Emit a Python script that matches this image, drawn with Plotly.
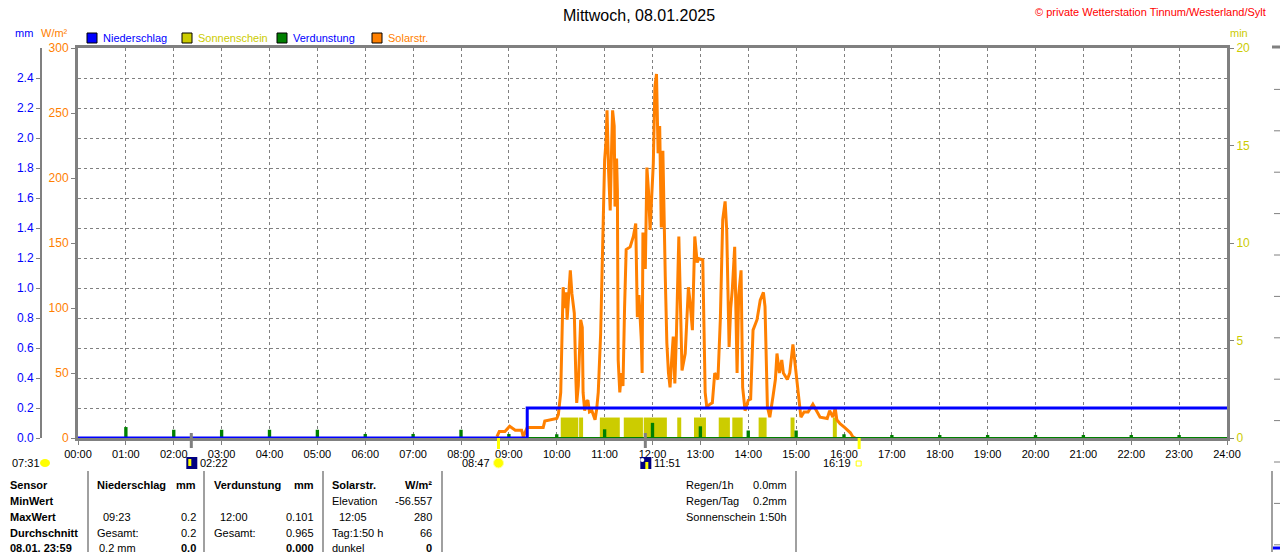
import plotly.graph_objects as go

# Tagesgrafik Wetterstation, 08.01.2025
W, H = 1280, 552

# Solarstrahlung W/m²
solar_time = ["08:45", "08:48", "08:55", "09:01", "09:08", "09:16", "09:18", "09:23", "09:43", "09:45",
              "10:00", "10:02", "10:05", "10:07", "10:08", "10:10", "10:12", "10:13", "10:15", "10:17",
              "10:19", "10:22", "10:24", "10:25", "10:27", "10:28", "10:30", "10:32", "10:33", "10:35",
              "10:37", "10:39", "10:41", "10:44", "10:48", "10:50", "10:52", "10:55", "10:57", "11:00",
              "11:02", "11:03", "11:05", "11:07", "11:09", "11:10", "11:12", "11:13", "11:15", "11:16",
              "11:17", "11:19", "11:21", "11:23", "11:25", "11:27", "11:32", "11:36", "11:39", "11:41",
              "11:43", "11:46", "11:47", "11:48", "11:51", "11:53", "11:55", "11:57", "12:01", "12:02",
              "12:03", "12:05", "12:07", "12:09", "12:11", "12:12", "12:13", "12:16", "12:18", "12:20",
              "12:22", "12:24", "12:26", "12:28", "12:30", "12:33", "12:35", "12:37", "12:41", "12:45",
              "12:47", "12:50", "12:53", "12:56", "12:58", "13:03", "13:06", "13:08", "13:12", "13:15",
              "13:18", "13:22", "13:25", "13:27", "13:28", "13:31", "13:33", "13:36", "13:38", "13:40",
              "13:43", "13:46", "13:48", "13:51", "13:53", "13:56", "14:00", "14:03", "14:06", "14:11",
              "14:15", "14:19", "14:21", "14:24", "14:27", "14:31", "14:34", "14:36", "14:39", "14:42",
              "14:44", "14:49", "14:52", "14:56", "15:00", "15:02", "15:06", "15:10", "15:15", "15:21",
              "15:26", "15:30", "15:39", "15:42", "15:46", "15:49", "15:51", "15:55", "16:01", "16:08",
              "16:11", "16:14"]
solar_wm2 = [1, 5, 5, 9, 6, 6, 1, 8, 8, 13,
             15, 18, 35, 106, 116, 100, 112, 91, 110, 129,
             111, 96, 45, 27, 40, 60, 91, 85, 35, 21,
             28, 29, 20, 21, 14, 22, 35, 80, 137, 214,
             230, 252, 205, 175, 230, 252, 240, 178, 215, 190,
             60, 35, 50, 40, 100, 145, 147, 155, 165, 93,
             110, 75, 50, 158, 130, 208, 190, 160, 211, 250,
             270, 280, 219, 240, 162, 200, 221, 124, 73, 50,
             39, 60, 78, 42, 80, 155, 90, 52, 65, 116,
             105, 83, 155, 135, 138, 137, 35, 24, 26, 27,
             50, 45, 91, 152, 168, 182, 160, 70, 100, 114,
             147, 50, 110, 129, 39, 21, 29, 30, 83, 91,
             106, 112, 101, 24, 16, 32, 45, 65, 50, 60,
             50, 45, 50, 72, 50, 39, 16, 20, 20, 26,
             20, 16, 15, 21, 16, 23, 14, 11, 8, 4,
             1, 0]

# Niederschlag (Tagessumme, mm)
rain_time = ["00:00", "09:23", "24:00"]
rain_mm = [0, 0.2, 0.2]

# Verdunstung je Stunde (mm)
evap_time = ["01:00", "02:00", "03:00", "04:00", "05:00", "06:00", "07:00", "08:00", "09:00", "10:00",
             "11:00", "12:00", "13:00", "14:00", "15:00", "16:00", "17:00", "18:00", "19:00", "20:00",
             "21:00", "22:00", "23:00"]
evap_mm = [0.073, 0.055, 0.055, 0.055, 0.055, 0.027, 0.027, 0.055, 0.027, 0.025,
           0.058, 0.101, 0.078, 0.05, 0.05, 0.025, 0.02, 0.02, 0.02, 0.02,
           0.02, 0.02, 0.02]

# Sonnenschein (min)
sun_start = ["10:05", "10:28", "10:54", "11:24", "11:49", "12:31", "12:52", "13:23", "13:40", "14:13", "14:53", "15:46"]
sun_end = ["10:27", "10:33", "11:19", "11:48", "12:18", "12:36", "13:07", "13:37", "13:53", "14:23", "14:58", "15:51"]
sun_min = [1.05] * len(sun_start)

hour_labels = ["%02d:00" % h for h in range(25)]


def hrs(t):
    h, m = t.split(":")
    return int(h) + int(m) / 60


def px(x):
    return x / W


def py(y):
    return 1 - y / H


FONT = "Liberation Sans, Arial, sans-serif"
GREY = "#808080"
BLUE = "#0000FF"
ORANGE = "#FF8000"
YELLOW = "#CCCC00"
GREEN = "#008000"

fig = go.Figure()

# Sonnenschein-Balken
fig.add_trace(go.Bar(
    x=[(hrs(a) + hrs(b)) / 2 for a, b in zip(sun_start, sun_end)],
    width=[hrs(b) - hrs(a) for a, b in zip(sun_start, sun_end)],
    y=sun_min, yaxis="y", marker=dict(color=YELLOW, line=dict(width=0)),
    showlegend=False, hoverinfo="skip"))

# Solarstrahlung
fig.add_trace(go.Scatter(
    x=[hrs(t) for t in solar_time], y=solar_wm2, yaxis="y2", mode="lines",
    line=dict(color=ORANGE, width=3), showlegend=False, hoverinfo="skip"))

# Verdunstung
fig.add_trace(go.Scatter(
    x=[0, 24], y=[0, 0], yaxis="y3", mode="lines",
    line=dict(color=GREEN, width=2), showlegend=False, hoverinfo="skip"))
fig.add_trace(go.Bar(
    x=[hrs(t) for t in evap_time], y=evap_mm, width=0.07, yaxis="y3",
    marker=dict(color=GREEN, line=dict(width=0)), showlegend=False, hoverinfo="skip"))

# Niederschlag
fig.add_trace(go.Scatter(
    x=[hrs(t) for t in rain_time], y=rain_mm, yaxis="y3", mode="lines", line_shape="hv",
    line=dict(color=BLUE, width=3), showlegend=False, hoverinfo="skip"))

shapes = []
annotations = []


def text(x, y, s, color="black", size=11, anchor="left", bold=False):
    if bold:
        s = "<b>" + s + "</b>"
    annotations.append(dict(x=px(x), y=py(y), xref="paper", yref="paper", text=s, showarrow=False,
                            xanchor=anchor, yanchor="middle", font=dict(family=FONT, size=size, color=color)))


# Titel
text(639, 15, "Mittwoch, 08.01.2025", size=16, anchor="center")
text(1268, 12, "© private Wetterstation Tinnum/Westerland/Sylt", color="#FF0000", size=11, anchor="right")

# Einheiten
text(13, 33, "mm", color=BLUE)
text(39, 33, "W/m²", color=ORANGE)
text(1228, 33, "min", color=YELLOW)

# Legende
legend_items = [("Niederschlag", BLUE, BLUE), ("Sonnenschein", YELLOW, YELLOW),
                ("Verdunstung", GREEN, BLUE), ("Solarstr.", ORANGE, ORANGE)]
for i, (name, box, col) in enumerate(legend_items):
    x0 = 87 + 95 * i
    shapes.append(dict(type="rect", xref="paper", yref="paper", x0=px(x0), x1=px(x0 + 10),
                       y0=py(43), y1=py(33), fillcolor=box, line=dict(color="black", width=1)))
    text(x0 + 14, 38, name, color=col)

# Sonne / Mond Ereignisse
for t in ["02:22", "11:51"]:
    shapes.append(dict(type="line", xref="x", yref="paper", x0=hrs(t), x1=hrs(t),
                       y0=py(448), y1=py(433), line=dict(color=GREY, width=3)))
    shapes.append(dict(type="rect", xref="x", yref="paper", xsizemode="pixel", xanchor=hrs(t),
                       x0=-5, x1=6, y0=py(469), y1=py(457), fillcolor="#000080", line=dict(width=0)))
    text(0, 0, "")
    annotations.pop()
    text(hrs(t) * 47.875 + 78 + 7, 463, t)
shapes.append(dict(type="rect", xref="x", yref="paper", xsizemode="pixel", xanchor=hrs("02:22"),
                   x0=-3, x1=0, y0=py(466), y1=py(459), fillcolor="#FFFF00", line=dict(width=0)))
shapes.append(dict(type="rect", xref="x", yref="paper", xsizemode="pixel", xanchor=hrs("11:51"),
                   x0=0, x1=3, y0=py(469), y1=py(462), fillcolor="#FFFF00", line=dict(width=0)))
shapes.append(dict(type="circle", xref="x", yref="paper", xsizemode="pixel", xanchor=hrs("11:51"),
                   x0=-5, x1=-1, y0=py(462), y1=py(458), fillcolor="white", line=dict(width=0)))

for t in ["08:47", "16:19"]:
    shapes.append(dict(type="line", xref="x", yref="paper", x0=hrs(t), x1=hrs(t),
                       y0=py(449), y1=py(438), line=dict(color="#FFFF00", width=3)))
shapes.append(dict(type="circle", xref="x", yref="paper", xsizemode="pixel", xanchor=hrs("08:47"),
                   x0=-5, x1=5, y0=py(468), y1=py(458), fillcolor="#FFFF00", line=dict(color="#FFFF99", width=1)))
text(hrs("08:47") * 47.875 + 78 - 7, 463, "08:47", anchor="right")
shapes.append(dict(type="rect", xref="x", yref="paper", xsizemode="pixel", xanchor=hrs("16:19"),
                   x0=-3, x1=2, y0=py(466), y1=py(461), fillcolor="white", line=dict(color="#FFFF00", width=1)))
text(hrs("16:19") * 47.875 + 78 - 6, 463, "16:19", anchor="right")
text(10, 463, "07:31")
shapes.append(dict(type="circle", xref="paper", yref="paper", x0=px(40), x1=px(50),
                   y0=py(467), y1=py(459), fillcolor="#FFFF00", line=dict(width=0)))

# Rechte Teilachse (abgeschnitten)
shapes.append(dict(type="line", xref="paper", yref="paper", x0=px(1272), x1=px(1280),
                   y0=py(47), y1=py(47), line=dict(color=GREY, width=3)))
for k in range(1, 13):
    y = 48 + 41.4 * k
    shapes.append(dict(type="line", xref="paper", yref="paper", x0=px(1274), x1=px(1280),
                       y0=py(y), y1=py(y), line=dict(color=GREY, width=1)))
shapes.append(dict(type="line", xref="paper", yref="paper", x0=px(1272), x1=px(1280),
                   y0=py(548), y1=py(548), line=dict(color=BLUE, width=3)))

# Tabelle
for x in [88, 204, 323, 442, 796, 1272]:
    shapes.append(dict(type="line", xref="paper", yref="paper", x0=px(x), x1=px(x),
                       y0=py(552), y1=py(471), line=dict(color="#A0A0A0", width=2)))

rows_y = [485, 501, 517, 533, 548]
row_names = ["Sensor", "MinWert", "MaxWert", "Durchschnitt", "08.01. 23:59"]
for y, s in zip(rows_y, row_names):
    text(8, y, s, bold=True)

text(95, 485, "Niederschlag", bold=True)
text(198, 485, "mm", anchor="right", bold=True)
text(101, 517, "09:23")
text(198, 517, "0.2", anchor="right")
text(95, 533, "Gesamt:")
text(198, 533, "0.2", anchor="right")
text(97, 548, "0.2 mm")
text(198, 548, "0.0", anchor="right", bold=True)

text(212, 485, "Verdunstung", bold=True)
text(316, 485, "mm", anchor="right", bold=True)
text(218, 517, "12:00")
text(316, 517, "0.101", anchor="right")
text(212, 533, "Gesamt:")
text(316, 533, "0.965", anchor="right")
text(316, 548, "0.000", anchor="right", bold=True)

text(330, 485, "Solarstr.", bold=True)
text(434, 485, "W/m²", anchor="right", bold=True)
text(330, 501, "Elevation")
text(434, 501, "-56.557", anchor="right")
text(337, 517, "12:05")
text(434, 517, "280", anchor="right")
text(330, 533, "Tag:1:50 h")
text(434, 533, "66", anchor="right")
text(330, 548, "dunkel")
text(434, 548, "0", anchor="right", bold=True)

for y, a, b in zip([485, 501, 517], ["Regen/1h", "Regen/Tag", "Sonnenschein"], ["0.0mm", "0.2mm", "1:50h"]):
    text(684, y, a)
    text(789, y, b, anchor="right")

tickfont = dict(family=FONT, size=11)
fig.update_layout(
    width=W, height=H, template="none",
    margin=dict(l=0, r=0, t=0, b=0, pad=0),
    paper_bgcolor="white", plot_bgcolor="white",
    barmode="overlay", showlegend=False,
    xaxis=dict(domain=[px(78), px(1227)], range=[0, 24], tickvals=list(range(25)), ticktext=hour_labels,
               showgrid=True, gridcolor=GREY, griddash="3px,3px", gridwidth=1,
               showline=True, linecolor=GREY, linewidth=3, mirror=True,
               ticks="outside", ticklen=4, tickcolor=GREY, zeroline=False,
               tickfont=dict(tickfont, color="black")),
    yaxis=dict(domain=[py(438), py(48)], range=[0, 20], tickvals=[0, 5, 10, 15, 20], side="right",
               anchor="x", showgrid=False, zeroline=False, showline=True, linecolor=GREY, linewidth=3,
               ticks="outside", ticklen=4, tickcolor=GREY, tickfont=dict(tickfont, color=YELLOW, size=12)),
    yaxis2=dict(range=[0, 300], tickvals=[0, 50, 100, 150, 200, 250, 300], overlaying="y", side="left",
                anchor="x", showgrid=False, zeroline=False, showline=True, linecolor=GREY, linewidth=3,
                ticks="outside", ticklen=4, tickcolor=GREY, tickfont=dict(tickfont, color=ORANGE, size=12)),
    yaxis3=dict(range=[0, 2.6], tickvals=[0, 0.2, 0.4, 0.6, 0.8, 1.0, 1.2, 1.4, 1.6, 1.8, 2.0, 2.2, 2.4],
                tickformat=".1f", overlaying="y", side="left", anchor="free", position=px(41),
                showgrid=True, gridcolor=GREY, griddash="3px,3px", gridwidth=1, zeroline=False,
                showline=True, linecolor=GREY, linewidth=2, ticks="outside", ticklen=4, tickcolor=GREY,
                tickfont=dict(tickfont, color=BLUE, size=12)),
    shapes=shapes, annotations=annotations,
)

fig.write_html("out.html", config={"displayModeBar": False},
               post_script="document.body.style.margin='0';")
